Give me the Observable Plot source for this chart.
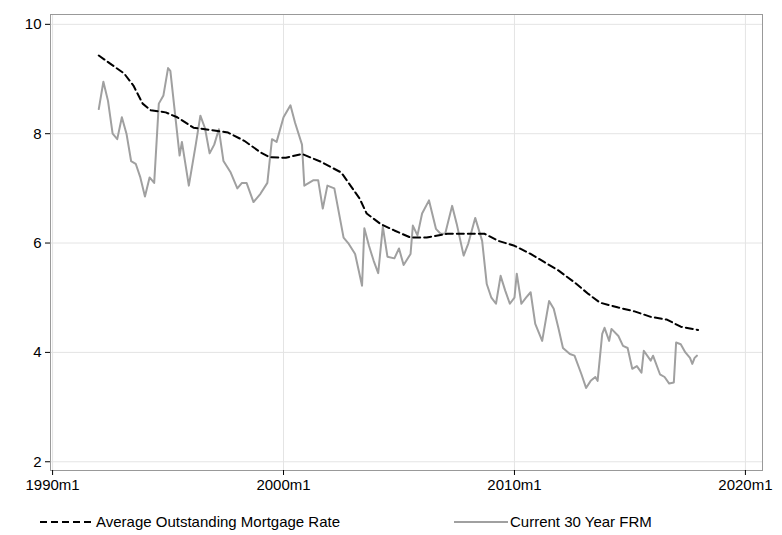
<!DOCTYPE html>
<html><head><meta charset="utf-8">
<script src="https://cdn.jsdelivr.net/npm/d3@7"></script>
<script src="https://cdn.jsdelivr.net/npm/@observablehq/plot@0.6"></script>
<style>
body{margin:0;background:#fff;font-family:"Liberation Sans",Arial,sans-serif;}
#legend{font-size:15px;height:39px;position:relative}
.item{position:absolute;display:flex;align-items:center;top:17px}
</style></head><body>
<div id="chart"></div>
<div id="legend">
 <div class="item" style="left:38px"><svg width="58" height="10"><line x1="2" x2="56" y1="5" y2="5" stroke="#000" stroke-width="2" stroke-dasharray="7,4"/></svg><span>Average Outstanding Mortgage Rate</span></div>
 <div class="item" style="left:452px"><svg width="58" height="10"><line x1="2" x2="56" y1="5" y2="5" stroke="#a0a0a0" stroke-width="2"/></svg><span>Current 30 Year FRM</span></div>
</div>
<script>
const avgYears=[1992.0,1992.6,1993.1,1993.5,1993.9,1994.25,1994.9,1995.4,1996.1,1997.0,1997.6,1998.3,1999.0,1999.4,2000.1,2000.8,2001.6,2002.5,2002.9,2003.3,2003.6,2004.2,2004.8,2005.5,2006.2,2007.1,2008.0,2008.7,2009.3,2010.0,2010.7,2011.3,2011.9,2012.6,2013.2,2013.7,2014.5,2015.2,2015.9,2016.6,2017.2,2017.95];
const avgRate=[9.43,9.25,9.1,8.88,8.55,8.43,8.39,8.3,8.11,8.06,8.02,7.87,7.66,7.57,7.56,7.63,7.49,7.29,7.05,6.81,6.54,6.35,6.23,6.1,6.1,6.17,6.17,6.17,6.04,5.95,5.8,5.65,5.5,5.28,5.07,4.91,4.82,4.75,4.65,4.6,4.47,4.41];
const frmYears=[1992.0,1992.2,1992.4,1992.6,1992.8,1993.0,1993.2,1993.4,1993.6,1993.8,1994.0,1994.2,1994.4,1994.6,1994.8,1995.0,1995.1,1995.5,1995.6,1995.9,1996.2,1996.4,1996.6,1996.8,1997.0,1997.2,1997.4,1997.7,1998.0,1998.2,1998.4,1998.7,1999.0,1999.3,1999.5,1999.7,2000.0,2000.3,2000.5,2000.8,2000.9,2001.3,2001.5,2001.7,2001.9,2002.2,2002.6,2002.8,2003.1,2003.4,2003.5,2003.7,2003.9,2004.1,2004.3,2004.5,2004.8,2005.0,2005.2,2005.5,2005.6,2005.8,2006.0,2006.3,2006.6,2006.8,2007.0,2007.3,2007.5,2007.8,2008.0,2008.3,2008.6,2008.8,2009.0,2009.2,2009.4,2009.6,2009.8,2010.0,2010.1,2010.3,2010.5,2010.7,2010.9,2011.2,2011.4,2011.5,2011.7,2011.9,2012.1,2012.4,2012.6,2012.9,2013.1,2013.3,2013.5,2013.6,2013.8,2013.9,2014.1,2014.2,2014.5,2014.7,2014.9,2015.1,2015.3,2015.5,2015.6,2015.9,2016.0,2016.3,2016.5,2016.7,2016.9,2017.0,2017.2,2017.4,2017.6,2017.7,2017.8,2017.9];
const frmRate=[8.45,8.95,8.6,8.0,7.9,8.3,8.0,7.5,7.45,7.2,6.85,7.2,7.1,8.55,8.7,9.2,9.15,7.6,7.85,7.05,7.8,8.33,8.1,7.64,7.8,8.08,7.5,7.3,7.0,7.1,7.1,6.75,6.9,7.1,7.9,7.85,8.3,8.52,8.2,7.8,7.05,7.15,7.15,6.63,7.05,7.0,6.1,6.0,5.8,5.22,6.27,5.95,5.68,5.45,6.3,5.75,5.72,5.9,5.6,5.8,6.32,6.14,6.54,6.78,6.26,6.17,6.17,6.68,6.35,5.77,5.99,6.46,6.04,5.25,5.0,4.89,5.4,5.13,4.89,5.0,5.44,4.89,5.0,5.1,4.52,4.21,4.7,4.94,4.8,4.45,4.08,3.97,3.94,3.6,3.35,3.48,3.55,3.48,4.34,4.45,4.21,4.43,4.3,4.12,4.08,3.7,3.75,3.63,4.03,3.85,3.94,3.6,3.55,3.43,3.45,4.18,4.15,4.0,3.9,3.79,3.9,3.94];
const xTicks=[1990,2000,2010,2020];
const yTicks=[2,4,6,8,10];
const avg=avgYears.map((t,i)=>({t,v:avgRate[i]}));
const frm=frmYears.map((t,i)=>({t,v:frmRate[i]}));
const chart=Plot.plot({
 width:782,height:496,marginLeft:50,marginRight:20,marginTop:14,marginBottom:26,
 style:{fontFamily:"Liberation Sans, Arial, sans-serif",fontSize:"15px",color:"#000",overflow:"visible"},
 x:{domain:[1989.91,2020.74],label:null},
 y:{domain:[1.84,10.18],label:null},
 marks:[
  Plot.gridX(xTicks,{stroke:"#e4e4e4",strokeOpacity:1}),
  Plot.gridY(yTicks,{stroke:"#e4e4e4",strokeOpacity:1}),
  Plot.frame({stroke:"#999"}),
  Plot.axisX({ticks:xTicks,tickFormat:d=>d+"m1",tickSize:5,fontSize:15,label:null}),
  Plot.axisY({ticks:yTicks,tickSize:5,fontSize:15,label:null}),
  Plot.line(frm,{x:"t",y:"v",stroke:"#a0a0a0",strokeWidth:2}),
  Plot.line(avg,{x:"t",y:"v",stroke:"#000",strokeWidth:2,strokeDasharray:"7,4"})
 ]
});
document.getElementById("chart").appendChild(chart);
</script></body></html>
